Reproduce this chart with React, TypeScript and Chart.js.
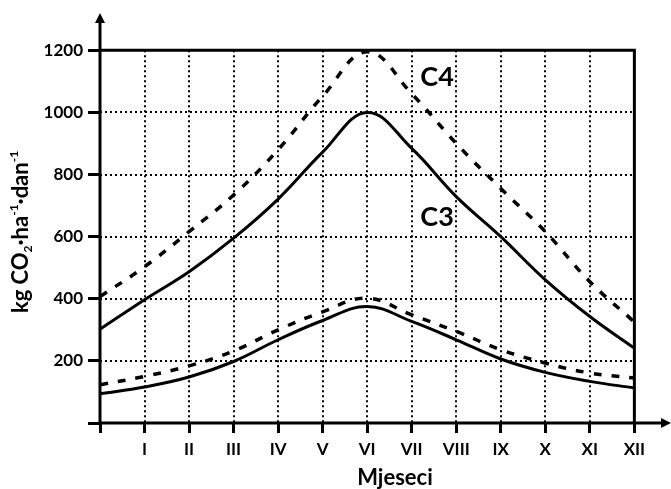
import React, { useEffect, useRef } from 'react';
import { Chart, registerables } from 'chart.js';

Chart.register(...registerables);

// ---- data ----
const monthPositions = [0, 1, 2, 3, 4, 5, 6, 7, 8, 9, 10, 11, 12];
const monthLabels = ['', 'I', 'II', 'III', 'IV', 'V', 'VI', 'VII', 'VIII', 'IX', 'X', 'XI', 'XII'];
const c4Upper = [407, 503, 616, 734, 880, 1052, 1195, 1060, 900, 755, 616, 455, 325];
const c3Upper = [302, 397, 487, 595, 721, 872, 1000, 884, 729, 600, 461, 343, 241];
const c4Lower = [123, 150, 184, 232, 300, 358, 402, 348, 295, 236, 193, 161, 145];
const c3Lower = [94, 116, 148, 198, 268, 330, 375, 327, 268, 206, 163, 134, 113];
const yTickValues = [0, 200, 400, 600, 800, 1000, 1200];
const gridYValues = [200, 400, 600, 800, 1000];
const gridXValues = [1, 2, 3, 4, 5, 6, 7, 8, 9, 10, 11];
const seriesLabels = ['C4', 'C3'];
const seriesLabelX = [7.57, 7.57];
const seriesLabelY = [1114, 663];
const xAxisTitle = 'Mjeseci';
const Y_MAX = 1320;
const X_MAX = 12.8;
const FRAME_Y = 1200;
const FRAME_X = 12;

const FONT = 'Lato, "Open Sans", sans-serif';

const toPoints = (vals: number[]) => vals.map((v, i) => ({ x: monthPositions[i], y: v }));

const decorPlugin = {
  id: 'decor',
  beforeDatasetsDraw(chart: any) {
    const { ctx, scales } = chart;
    const xs = scales.x;
    const ys = scales.y;
    ctx.save();
    // dotted grid
    ctx.strokeStyle = '#000';
    ctx.lineWidth = 2;
    ctx.setLineDash([2, 3]);
    gridXValues.forEach((v) => {
      const px = Math.round(xs.getPixelForValue(v));
      ctx.beginPath();
      ctx.moveTo(px, ys.getPixelForValue(FRAME_Y));
      ctx.lineTo(px, ys.getPixelForValue(0));
      ctx.stroke();
    });
    gridYValues.forEach((v) => {
      const py = Math.round(ys.getPixelForValue(v));
      ctx.beginPath();
      ctx.moveTo(xs.getPixelForValue(0), py);
      ctx.lineTo(xs.getPixelForValue(FRAME_X), py);
      ctx.stroke();
    });
    ctx.setLineDash([]);
    // frame (top + right)
    ctx.lineWidth = 3;
    ctx.beginPath();
    ctx.moveTo(xs.getPixelForValue(0), ys.getPixelForValue(FRAME_Y));
    ctx.lineTo(xs.getPixelForValue(FRAME_X), ys.getPixelForValue(FRAME_Y));
    ctx.lineTo(xs.getPixelForValue(FRAME_X), ys.getPixelForValue(0));
    ctx.stroke();
    ctx.restore();
  },
  afterDraw(chart: any) {
    const { ctx, scales, chartArea } = chart;
    const xs = scales.x;
    const ys = scales.y;
    const x0 = xs.getPixelForValue(0);
    const y0 = ys.getPixelForValue(0);
    ctx.save();
    ctx.strokeStyle = '#000';
    ctx.fillStyle = '#000';
    ctx.lineWidth = 3;
    // y axis with arrow
    ctx.beginPath();
    ctx.moveTo(x0, y0 + 1.5);
    ctx.lineTo(x0, chartArea.top + 8);
    ctx.stroke();
    ctx.beginPath();
    ctx.moveTo(x0, chartArea.top);
    ctx.lineTo(x0 - 5, chartArea.top + 10);
    ctx.lineTo(x0 + 5, chartArea.top + 10);
    ctx.closePath();
    ctx.fill();
    // x axis with arrow
    ctx.beginPath();
    ctx.moveTo(x0 - 1.5, y0);
    ctx.lineTo(chartArea.right - 8, y0);
    ctx.stroke();
    ctx.beginPath();
    ctx.moveTo(chartArea.right + 1, y0);
    ctx.lineTo(chartArea.right - 9, y0 - 5);
    ctx.lineTo(chartArea.right - 9, y0 + 5);
    ctx.closePath();
    ctx.fill();

    // series labels
    ctx.font = `bold 27px ${FONT}`;
    ctx.textAlign = 'center';
    ctx.textBaseline = 'middle';
    seriesLabels.forEach((t, i) => {
      ctx.fillText(t, xs.getPixelForValue(seriesLabelX[i]), ys.getPixelForValue(seriesLabelY[i]));
    });

    // x axis title
    ctx.font = `bold 22px ${FONT}`;
    ctx.textAlign = 'center';
    ctx.textBaseline = 'alphabetic';
    ctx.fillText(xAxisTitle, (x0 + chartArea.right) / 2 + 10, 485);

    // y axis title with sub/superscripts
    const parts = [
      { t: 'kg CO', s: 22, dy: 0 },
      { t: '2', s: 12, dy: 4 },
      { t: '·ha', s: 22, dy: 0 },
      { t: '-1', s: 12, dy: -10 },
      { t: '·dan', s: 22, dy: 0 },
      { t: '-1', s: 12, dy: -10 },
    ];
    let total = 0;
    parts.forEach((p) => {
      ctx.font = `bold ${p.s}px ${FONT}`;
      total += ctx.measureText(p.t).width;
    });
    ctx.translate(28, 232);
    ctx.rotate(-Math.PI / 2);
    ctx.textAlign = 'left';
    let cx = -total / 2;
    parts.forEach((p) => {
      ctx.font = `bold ${p.s}px ${FONT}`;
      ctx.fillText(p.t, cx, p.dy);
      cx += ctx.measureText(p.t).width;
    });
    ctx.restore();
  },
};

export default function App() {
  const ref = useRef<HTMLCanvasElement | null>(null);
  useEffect(() => {
    if (!ref.current) return;
    const lineBase = {
      borderColor: '#000',
      pointRadius: 0,
      tension: 0.4,
      fill: false,
    };
    const chart = new Chart(ref.current, {
      type: 'line',
      data: {
        datasets: [
          { ...lineBase, label: 'C4 gornja', data: toPoints(c4Upper), borderWidth: 3.5, borderDash: [8, 10] },
          { ...lineBase, label: 'C3 gornja', data: toPoints(c3Upper), borderWidth: 3 },
          { ...lineBase, label: 'C4 donja', data: toPoints(c4Lower), borderWidth: 3.5, borderDash: [8, 10] },
          { ...lineBase, label: 'C3 donja', data: toPoints(c3Lower), borderWidth: 3 },
        ],
      },
      options: {
        animation: false,
        responsive: false,
        layout: { padding: { top: 13, right: 1, left: 0, bottom: 0 } },
        plugins: { legend: { display: false }, tooltip: { enabled: false } },
        scales: {
          x: {
            type: 'linear',
            min: 0,
            max: X_MAX,
            afterBuildTicks: (s: any) => {
              s.ticks = monthPositions.map((v) => ({ value: v }));
            },
            afterFit: (s: any) => {
              s.height = 66;
              s.paddingLeft = 0;
              s.paddingRight = 0;
            },
            ticks: {
              autoSkip: false,
              maxRotation: 0,
              padding: 6,
              color: '#000',
              font: { family: FONT, size: 17, weight: 'bold' },
              callback: (v: any) => monthLabels[Math.round(Number(v))] ?? '',
            },
            grid: {
              drawOnChartArea: false,
              drawTicks: true,
              tickLength: 10,
              tickWidth: 3,
              tickColor: '#000',
            },
            border: { display: false },
          },
          y: {
            type: 'linear',
            min: 0,
            max: Y_MAX,
            afterBuildTicks: (s: any) => {
              s.ticks = yTickValues.map((v) => ({ value: v }));
            },
            afterFit: (s: any) => {
              s.width = 100;
              s.paddingTop = 0;
              s.paddingBottom = 0;
            },
            ticks: {
              padding: 5,
              color: '#000',
              font: { family: FONT, size: 17, weight: 'bold' },
              callback: (v: any) => (Number(v) === 0 ? '' : String(v)),
            },
            grid: {
              drawOnChartArea: false,
              drawTicks: true,
              tickLength: 12,
              tickWidth: 3,
              tickColor: '#000',
            },
            border: { display: false },
          },
        },
      } as any,
      plugins: [decorPlugin],
    });
    return () => chart.destroy();
  }, []);
  return (
    <div style={{ position: 'absolute', left: 0, top: 0, width: 671, height: 489, background: '#fff' }}>
      <canvas ref={ref} width={671} height={489} />
    </div>
  );
}
